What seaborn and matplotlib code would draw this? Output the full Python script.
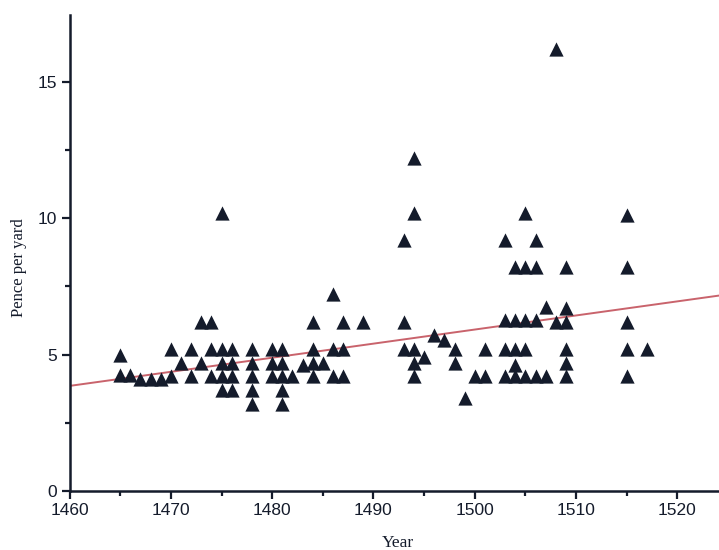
import numpy as np
import pandas as pd
import matplotlib
matplotlib.use("Agg")
import matplotlib.pyplot as plt
import seaborn as sns
from matplotlib.ticker import MultipleLocator

# cloth prices, one entry per triangle
years = [1465, 1465, 1466, 1467, 1468, 1469,
         1470, 1470, 1471, 1472, 1472, 1473, 1473,
         1474, 1474, 1474,
         1475, 1475, 1475, 1475, 1475,
         1476, 1476, 1476, 1476,
         1478, 1478, 1478, 1478, 1478,
         1480, 1480, 1480,
         1481, 1481, 1481, 1481, 1481,
         1482, 1483,
         1484, 1484, 1484, 1484, 1485,
         1486, 1486, 1486, 1487, 1487, 1487, 1489,
         1493, 1493, 1493,
         1494, 1494, 1494, 1494, 1494,
         1495, 1496, 1497, 1498, 1498, 1499, 1500, 1501, 1501,
         1503, 1503, 1503, 1503,
         1504, 1504, 1504, 1504, 1504,
         1505, 1505, 1505, 1505, 1505,
         1506, 1506, 1506, 1506,
         1507, 1507, 1508, 1508,
         1509, 1509, 1509, 1509, 1509, 1509,
         1515, 1515, 1515, 1515, 1515, 1517]
pence = [5.0, 4.25, 4.25, 4.1, 4.1, 4.1,
         5.2, 4.2, 4.7, 5.2, 4.2, 6.2, 4.7,
         6.2, 5.2, 4.2,
         10.2, 5.2, 4.7, 4.2, 3.7,
         5.2, 4.7, 4.2, 3.7,
         5.2, 4.7, 4.2, 3.7, 3.2,
         5.2, 4.7, 4.2,
         5.2, 4.7, 4.2, 3.7, 3.2,
         4.2, 4.6,
         6.2, 5.2, 4.7, 4.2, 4.7,
         7.2, 5.2, 4.2, 6.2, 5.2, 4.2, 6.2,
         9.2, 6.2, 5.2,
         12.2, 10.2, 5.2, 4.7, 4.2,
         4.9, 5.7, 5.55, 5.2, 4.7, 3.4, 4.2, 5.2, 4.2,
         9.2, 6.25, 5.2, 4.2,
         8.2, 6.25, 5.2, 4.6, 4.2,
         10.2, 8.2, 6.25, 5.2, 4.2,
         9.2, 8.2, 6.25, 4.2,
         6.75, 4.2, 16.2, 6.2,
         8.2, 6.7, 6.2, 5.2, 4.7, 4.2,
         10.1, 8.2, 6.2, 5.2, 4.2, 5.2]

# trend line end points as drawn
trend_years = [1460, 1524.1]
trend_pence = [3.85, 7.16]

x_ticks = [1460, 1470, 1480, 1490, 1500, 1510, 1520]
y_ticks = [0, 5, 10, 15]

ink = "#141b2b"

df = pd.DataFrame({"Year": years, "Pence": pence})
trend = pd.DataFrame({"Year": trend_years, "Pence": trend_pence})

sns.set_style("ticks")
plt.rcParams["font.family"] = ["Liberation Sans Narrow", "Liberation Sans", "DejaVu Sans"]

fig = plt.figure(figsize=(7.19, 5.5), dpi=100)
ax = fig.add_axes([0.0967, 0.1073, 0.9033, 0.8654])

sns.lineplot(data=trend, x="Year", y="Pence", ax=ax, color="#c9636c",
             linewidth=1.4, zorder=2)
sns.scatterplot(data=df, x="Year", y="Pence", ax=ax, marker="^", s=105,
                color=ink, linewidth=0, zorder=3)

ax.set_xlim(1460, 1524.1)
ax.set_ylim(0, 17.44)
ax.set_xticks(x_ticks)
ax.set_yticks(y_ticks)
ax.xaxis.set_minor_locator(MultipleLocator(5))
ax.yaxis.set_minor_locator(MultipleLocator(2.5))

ax.tick_params(axis="both", which="major", length=6, width=1.6, color=ink,
               labelsize=12.5, labelcolor=ink, pad=3)
ax.tick_params(axis="both", which="minor", length=3.5, width=1.6, color=ink)

sns.despine(ax=ax)
for side in ["left", "bottom"]:
    ax.spines[side].set_linewidth(1.8)
    ax.spines[side].set_color(ink)

ax.set_xlabel("Year", family=["Liberation Serif", "DejaVu Serif"],
              fontsize=12.5, color=ink)
ax.set_ylabel("Pence per yard", family=["Liberation Serif", "DejaVu Serif"],
              fontsize=12, color=ink)
ax.xaxis.set_label_coords(0.505, -0.092)
ax.yaxis.set_label_coords(-0.066, 0.47)

fig.savefig("out.png", dpi=100, facecolor="white")
